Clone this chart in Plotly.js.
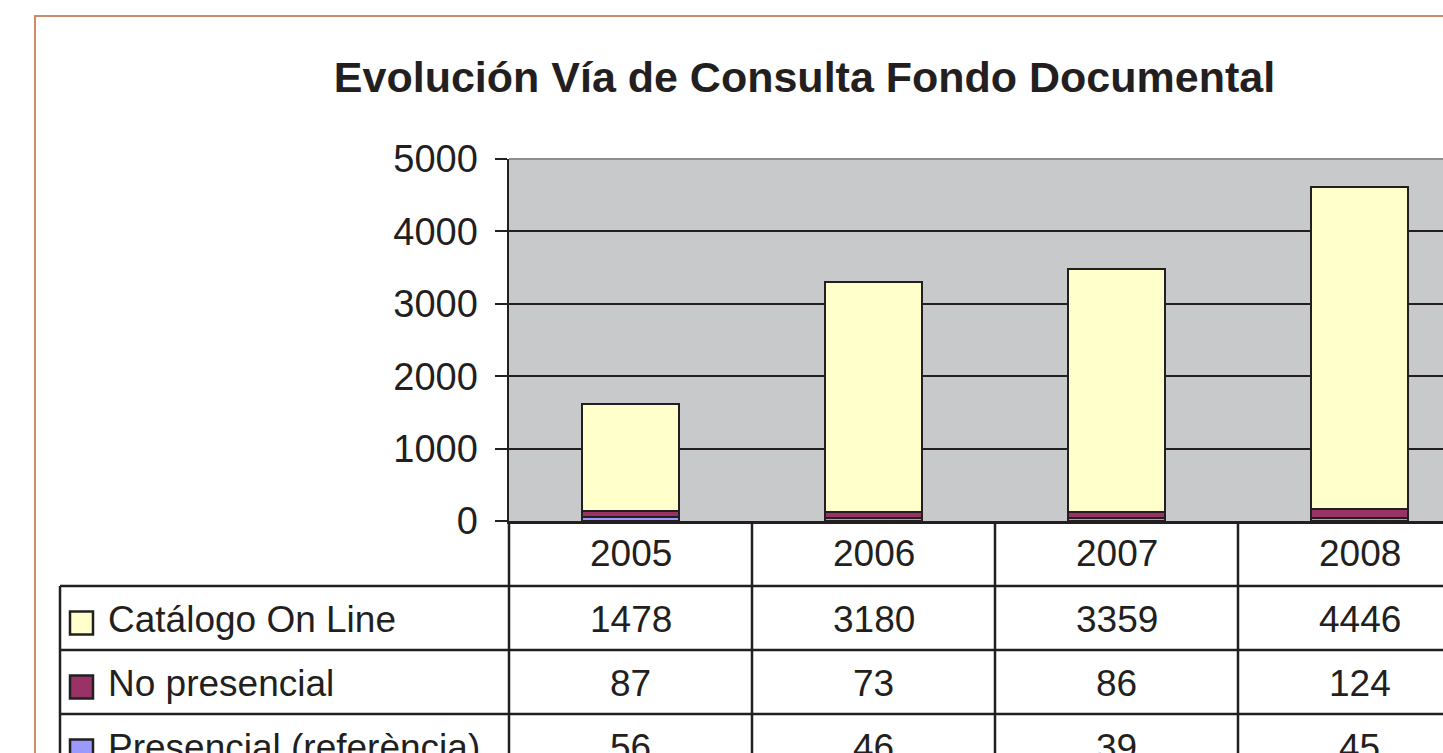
<!DOCTYPE html>
<html>
<head>
<meta charset="utf-8">
<script src="https://cdn.plot.ly/plotly-3.0.1.min.js"></script>
<style>
html,body{margin:0;padding:0;background:#fff;overflow:hidden;}
#chart{width:1443px;height:753px;}
</style>
</head>
<body>
<div id="chart"></div>
<script>
// ---- data ----
const years = ["2005", "2006", "2007", "2008"];
const seriesNames = ["Catálogo On Line", "No presencial", "Presencial (referència)"];
const catalogo = [1478, 3180, 3359, 4446];
const noPresencial = [87, 73, 86, 124];
const presencial = [56, 46, 39, 45];
const yTicks = [0, 1000, 2000, 3000, 4000, 5000];

// ---- style ----
const INK = "#231F20";
const FONT = "Liberation Sans, Arial, sans-serif";
const colors = {cat: "#FFFFCC", nop: "#993366", pres: "#9999FF"};

// layout geometry (pixels)
const W = 1443, H = 753;
const L = 509, T = 159, B = 521; // plot area left, top, bottom
const catW = 243;
const plotW = W - L, plotH = B - T;
const px = p => (p - L) / plotW;   // pixel x -> paper x
const py = p => (B - p) / plotH;   // pixel y -> paper y

const traces = [
  {name: seriesNames[2], x: years, y: presencial, type: "bar", width: 0.4,
   marker: {color: colors.pres, line: {color: INK, width: 2}}},
  {name: seriesNames[1], x: years, y: noPresencial, type: "bar", width: 0.4,
   marker: {color: colors.nop, line: {color: INK, width: 2}}},
  {name: seriesNames[0], x: years, y: catalogo, type: "bar", width: 0.4,
   marker: {color: colors.cat, line: {color: INK, width: 2}}}
];

const shapes = [];
const annotations = [];
const lineStyle = {color: INK, width: 2.5};

// outer chart border
shapes.push({type: "rect", xref: "paper", yref: "paper",
  x0: px(35), x1: px(1600), y0: py(16), y1: py(900),
  line: {color: "#CC8C6C", width: 2}, fillcolor: "rgba(0,0,0,0)", layer: "below"});

// plot area top border (gray)
shapes.push({type: "line", xref: "paper", yref: "paper", x0: 0, x1: 1, y0: 1, y1: 1,
  line: {color: "#8E8E90", width: 2}, layer: "above"});

// table rows
const rowEdges = [586, 650, 714, 778];
rowEdges.slice(0, 3).forEach(r => {
  shapes.push({type: "line", xref: "paper", yref: "paper", x0: px(60), x1: 1.1, y0: py(r), y1: py(r), line: lineStyle});
});
// left border of label column
shapes.push({type: "line", xref: "paper", yref: "paper", x0: px(60), x1: px(60), y0: py(586), y1: py(800), line: lineStyle});
// vertical line under y axis
shapes.push({type: "line", xref: "paper", yref: "paper", x0: 0, x1: 0, y0: 0, y1: py(800), line: lineStyle});
// category separators (between categories on the x axis)
for (let i = 0; i < years.length; i++) {
  shapes.push({type: "line", xref: "x", yref: "paper", x0: i + 0.5, x1: i + 0.5, y0: 0, y1: py(800), line: lineStyle});
}

// year header labels
years.forEach((yr, j) => {
  annotations.push({xref: "x", yref: "paper", x: j, y: py(553), text: yr, showarrow: false,
    xanchor: "center", yanchor: "middle", font: {family: FONT, size: 37, color: INK}});
});

// data rows
const rows = [
  {label: seriesNames[0], vals: catalogo, color: colors.cat},
  {label: seriesNames[1], vals: noPresencial, color: colors.nop},
  {label: seriesNames[2], vals: presencial, color: colors.pres}
];
rows.forEach((row, i) => {
  const c = (rowEdges[i] + rowEdges[i + 1]) / 2;
  shapes.push({type: "rect", xref: "paper", yref: "paper",
    x0: px(70), x1: px(93), y0: py(c + 5 - 11.5), y1: py(c + 5 + 11.5),
    fillcolor: row.color, line: lineStyle});
  annotations.push({xref: "paper", yref: "paper", x: px(106), y: py(c + 1), text: row.label,
    showarrow: false, xanchor: "left", yanchor: "middle", font: {family: FONT, size: 37, color: INK}});
  row.vals.forEach((v, j) => {
    annotations.push({xref: "x", yref: "paper", x: j, y: py(c + 1), text: String(v),
      showarrow: false, xanchor: "center", yanchor: "middle", font: {family: FONT, size: 37, color: INK}});
  });
});

const layout = {
  width: W, height: H,
  margin: {l: L, r: 0, t: T, b: H - B, pad: 0},
  paper_bgcolor: "#FFFFFF",
  plot_bgcolor: "#C8C9CB",
  barmode: "stack",
  showlegend: false,
  hovermode: false,
  title: {text: "Evolución Vía de Consulta Fondo Documental",
    xref: "container", yref: "container", x: 804.5 / W, y: 1 - 77 / H,
    xanchor: "center", yanchor: "middle",
    font: {family: FONT, size: 43, color: INK, weight: "bold"}},
  xaxis: {type: "category", range: [-0.5, -0.5 + plotW / catW], showticklabels: false,
    showgrid: false, zeroline: false, showline: true, linecolor: INK, linewidth: 2.5, ticks: "",
    fixedrange: true},
  yaxis: {range: [0, 5000], tickvals: yTicks, ticktext: yTicks.map(String),
    showgrid: true, gridcolor: INK, gridwidth: 2, zeroline: false,
    showline: true, linecolor: INK, linewidth: 2.5,
    ticks: "outside", ticklen: 12, tickwidth: 2, tickcolor: INK, ticklabelstandoff: 9,
    tickfont: {family: FONT, size: 38, color: INK}, fixedrange: true},
  shapes: shapes,
  annotations: annotations
};

Plotly.newPlot("chart", traces, layout, {displayModeBar: false, staticPlot: true});
</script>
</body>
</html>
